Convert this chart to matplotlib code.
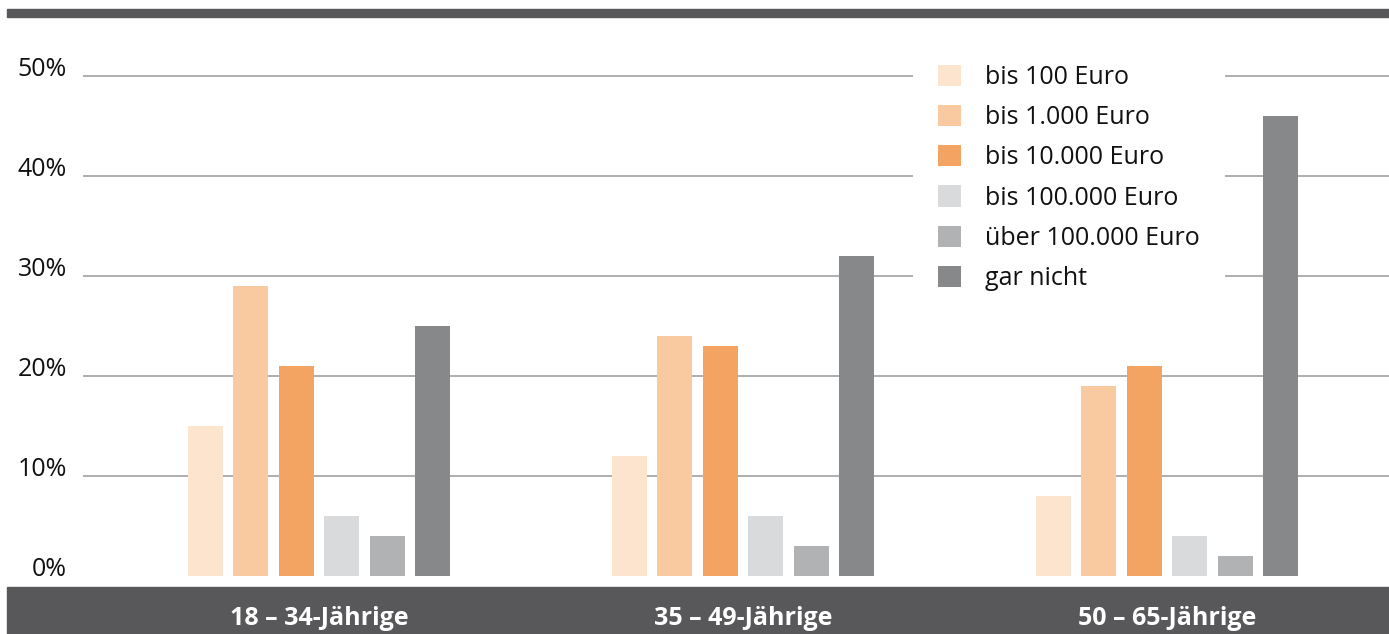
import matplotlib
matplotlib.use("Agg")
import matplotlib.pyplot as plt
import numpy as np
from matplotlib.patches import Rectangle, Patch

plt.rcParams['font.family'] = ['Open Sans', 'DejaVu Sans']

# data
groups = ['18 – 34-Jährige', '35 – 49-Jährige', '50 – 65-Jährige']
series = ['bis 100 Euro', 'bis 1.000 Euro', 'bis 10.000 Euro',
          'bis 100.000 Euro', 'über 100.000 Euro', 'gar nicht']
values = [
    [15, 12, 8],    # bis 100 Euro
    [29, 24, 19],   # bis 1.000 Euro
    [21, 23, 21],   # bis 10.000 Euro
    [6, 6, 4],      # bis 100.000 Euro
    [4, 3, 2],      # über 100.000 Euro
    [25, 32, 46],   # gar nicht
]
yticks = [0, 10, 20, 30, 40, 50]
colors = ['#fce4cf', '#f9c9a0', '#f3a463', '#d9dadc', '#b1b2b4', '#87888a']
band = '#58585a'

W, H = 1389, 634
fig = plt.figure(figsize=(W / 100, H / 100), dpi=100)

# axes in pixel terms: left 83, right 1389, bottom y=576, top y=76 (50%)
ax = fig.add_axes([83 / W, (H - 576) / H, (W - 83) / W, 505 / H])
ax.patch.set_visible(False)

x = np.arange(len(groups))
width = 35 / 424
step = 45.4 / 424
for k, (name, vals) in enumerate(zip(series, values)):
    ax.bar(x + (k - 2.5) * step, vals, width, color=colors[k], label=name, zorder=3)

ax.set_xlim(-236 / 424, (W - 83 - 236) / 424)
ax.set_ylim(0, 50.5)
ax.set_yticks(yticks)
ax.set_yticklabels([f'{v}%' for v in yticks], fontsize=18, color='#111111')
for lab in ax.get_yticklabels():
    lab.set_verticalalignment('baseline')
ax.tick_params(axis='y', length=0, pad=11.5)
ax.yaxis.grid(True, color='#a8a8a8', linewidth=1.3, zorder=0)
ax.yaxis.get_gridlines()[0].set_visible(False)
ax.set_axisbelow(True)
for s in ax.spines.values():
    s.set_visible(False)

# bottom band with category labels
fig.patches.append(Rectangle((7 / W, 0), 1 - 7 / W, (H - 587) / H,
                             transform=fig.transFigure, color=band, zorder=-1))
ax.set_xticks(x)
ax.set_xticklabels(groups, fontsize=18, fontweight='bold', color='white')
ax.tick_params(axis='x', length=0, pad=21.8)

# top bar
fig.patches.append(Rectangle((7 / W, (H - 17) / H), 1 - 7 / W, 8 / H,
                             transform=fig.transFigure, color=band, zorder=-1))

handles = [Patch(facecolor=c, edgecolor='none') for c in colors]
leg = ax.legend(handles, series, loc='upper left',
                bbox_to_anchor=(913 / W, (H - 40) / H), bbox_transform=fig.transFigure,
                fontsize=18, frameon=True, facecolor='white', edgecolor='none',
                fancybox=False, framealpha=1, handlelength=0.92, handleheight=0.92,
                handletextpad=0.96, labelspacing=0.6, borderpad=1.0, borderaxespad=0)
leg.set_zorder(5)
for t in leg.get_texts():
    t.set_color('#111111')

fig.savefig('out.png', dpi=100)
